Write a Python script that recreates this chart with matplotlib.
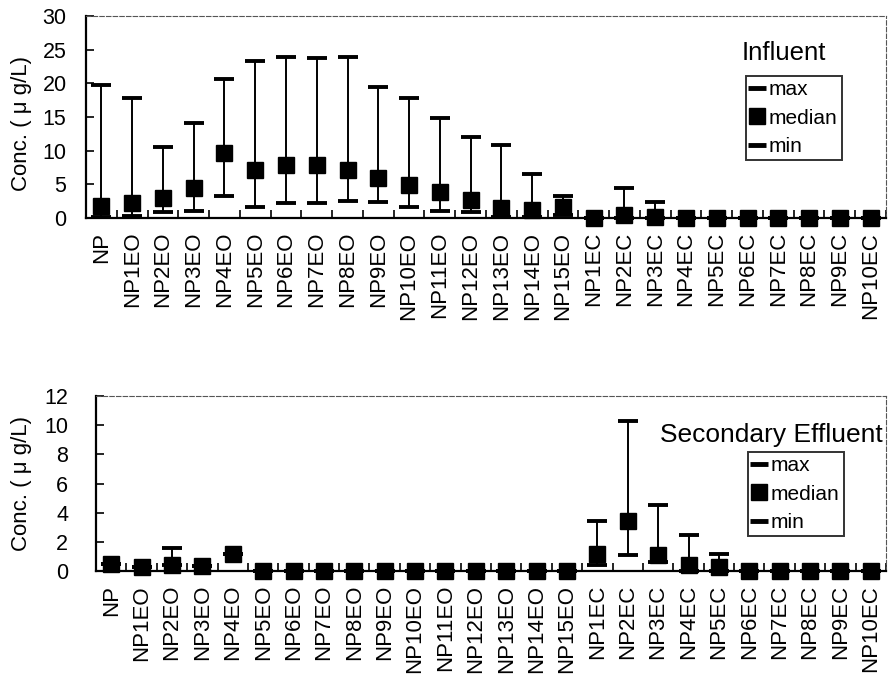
import numpy as np
import matplotlib.pyplot as plt
from matplotlib.lines import Line2D

plt.rcParams['font.family'] = ['Liberation Sans', 'DejaVu Sans']

# Compounds (x axis)
compounds = ['NP'] + [f'NP{i}EO' for i in range(1, 16)] + [f'NP{i}EC' for i in range(1, 11)]

# Influent (ug/L)
inf_max = [19.7, 17.8, 10.6, 14.1, 20.7, 23.3, 23.9, 23.7, 23.9, 19.4, 17.8, 14.9, 12.0,
           10.8, 6.6, 3.2, 0.0, 4.4, 2.4, 0.0, 0.0, 0.0, 0.0, 0.0, 0.0, 0.0]
inf_median = [1.8, 2.2, 3.0, 4.5, 9.6, 7.2, 7.8, 7.8, 7.2, 5.9, 4.9, 3.8, 2.6,
              1.5, 1.2, 1.6, 0.0, 0.5, 0.2, 0.0, 0.0, 0.0, 0.0, 0.0, 0.0, 0.0]
inf_min = [0.2, 0.3, 0.9, 1.1, 3.3, 1.7, 2.2, 2.2, 2.5, 2.4, 1.7, 1.0, 0.9,
           0.2, 0.1, 0.4, 0.0, 0.0, 0.0, 0.0, 0.0, 0.0, 0.0, 0.0, 0.0, 0.0]

# Secondary effluent (ug/L)
eff_max = [0.5, 0.3, 1.6, 0.35, 1.2, 0.0, 0.0, 0.0, 0.0, 0.0, 0.0, 0.0, 0.0,
           0.0, 0.0, 0.0, 3.4, 10.3, 4.5, 2.5, 1.2, 0.0, 0.0, 0.0, 0.0, 0.0]
eff_median = [0.5, 0.3, 0.4, 0.35, 1.2, 0.0, 0.0, 0.0, 0.0, 0.0, 0.0, 0.0, 0.0,
              0.0, 0.0, 0.0, 1.15, 3.45, 1.1, 0.4, 0.3, 0.0, 0.0, 0.0, 0.0, 0.0]
eff_min = [0.5, 0.3, 0.4, 0.35, 1.2, 0.0, 0.0, 0.0, 0.0, 0.0, 0.0, 0.0, 0.0,
           0.0, 0.0, 0.0, 0.4, 1.1, 0.6, 0.0, 0.0, 0.0, 0.0, 0.0, 0.0, 0.0]

fig = plt.figure(figsize=(8.9, 6.85), dpi=100)
ax1 = fig.add_axes([0.0966, 0.6818, 0.8989, 0.2948])
ax2 = fig.add_axes([0.1079, 0.1664, 0.8876, 0.2555])

x = np.arange(len(compounds))


def panel(ax, vmax, vmed, vmin, ylim, ystep, title, title_pos, title_size,
          leg_pos, ypad, ylab_pos):
    vmax, vmed, vmin = map(np.array, (vmax, vmed, vmin))
    eb = ax.errorbar(x, vmed, yerr=[vmed - vmin, vmax - vmed], fmt='s', color='k',
                     ms=11, capsize=7, capthick=2.8, elinewidth=1.4)
    for art in eb.get_children():
        art.set_clip_on(False)
    ax.set_xlim(-0.5, len(x) - 0.5)
    ax.set_ylim(0, ylim)
    ax.set_yticks(np.arange(0, ylim + 0.1, ystep))
    ax.set_xticks(x)
    ax.set_xticklabels(compounds, rotation=90, fontsize=16)
    ax.set_xticks(np.arange(len(x) + 1) - 0.5, minor=True)
    ax.tick_params(axis='x', which='major', length=0, pad=10)
    ax.tick_params(axis='x', which='minor', direction='in', length=6, width=1.2)
    ax.tick_params(axis='y', direction='in', length=6, width=1.2, labelsize=15.5, pad=ypad)
    for s in ('left', 'bottom'):
        ax.spines[s].set_linewidth(1.6)
    for s in ('top', 'right'):
        ax.spines[s].set_linestyle((0, (4, 2)))
        ax.spines[s].set_linewidth(0.8)
        ax.spines[s].set_color('#555555')
    ax.set_ylabel('Conc. ( μ g/L)', fontsize=16)
    ax.yaxis.set_label_coords(*ylab_pos)
    ax.text(title_pos[0], title_pos[1], title, transform=ax.transAxes,
            fontsize=title_size, va='center', ha='left')
    handles = [
        Line2D([], [], ls='none', marker='_', ms=13, mew=3.5, color='k'),
        Line2D([], [], ls='none', marker='s', ms=11, color='k'),
        Line2D([], [], ls='none', marker='_', ms=13, mew=3.5, color='k'),
    ]
    leg = ax.legend(handles, ['max', 'median', 'min'], loc='upper left',
                    bbox_to_anchor=leg_pos, fontsize=15, frameon=True,
                    fancybox=False, handlelength=0.7, handletextpad=0.2,
                    borderpad=0.2, labelspacing=0.45, borderaxespad=0)
    leg.get_frame().set_edgecolor('k')
    leg.get_frame().set_linewidth(1.4)


panel(ax1, inf_max, inf_median, inf_min, 30, 5, 'Influent', (0.82, 0.817), 18.5,
      (0.825, 0.703), 14, (-0.0675, 0.47))
panel(ax2, eff_max, eff_median, eff_min, 12, 2, 'Secondary Effluent', (0.714, 0.777), 19,
      (0.825, 0.68), 20, (-0.081, 0.5))

fig.savefig('out.png', dpi=100)
